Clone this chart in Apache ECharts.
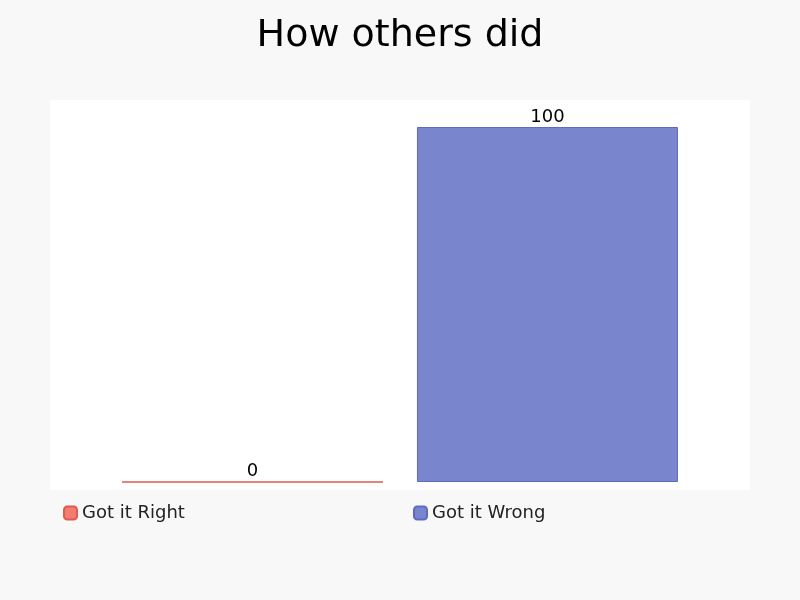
<!DOCTYPE html>
<html><head><meta charset="utf-8">
<script src="https://cdn.jsdelivr.net/npm/echarts@6/dist/echarts.min.js"></script>
<style>html,body{margin:0;background:#f8f8f8}#c{width:800px;height:600px}</style>
</head><body><div id="c"></div>
<script>
var categories = ['How others did'];
var seriesNames = ['Got it Right', 'Got it Wrong'];
var rightValues = [0];
var wrongValues = [100];

var chart = echarts.init(document.getElementById('c'));
chart.setOption({
  backgroundColor: '#f8f8f8',
  textStyle: { fontFamily: 'DejaVu Sans' },
  title: { text: 'How others did', left: 'center', top: 12,
    textStyle: { fontSize: 38, fontWeight: 'normal', color: '#000', fontFamily: 'DejaVu Sans' } },
  graphic: [{ type: 'rect', z: -1, shape: { x: 50, y: 100, width: 700, height: 390 }, style: { fill: '#fff' } }],
  legend: [
    { data: [seriesNames[0]], left: 58, top: 499, itemWidth: 13, itemHeight: 13,
      textStyle: { fontSize: 18, color: '#222' } },
    { data: [seriesNames[1]], left: 408, top: 499, itemWidth: 13, itemHeight: 13,
      textStyle: { fontSize: 18, color: '#222' } }
  ],
  grid: { left: 50, right: 50, top: 127, bottom: 118 },
  xAxis: { type: 'category', data: categories, show: false },
  yAxis: { type: 'value', min: 0, max: 100, show: false },
  series: [
    { name: seriesNames[0], type: 'bar', data: rightValues, barWidth: 261, barGap: '13%',
      itemStyle: { color: '#f47c70', borderColor: '#e05a4e', borderWidth: 1 },
      label: { show: true, position: 'top', fontSize: 18, color: '#000', distance: 1 } },
    { name: seriesNames[1], type: 'bar', data: wrongValues, barWidth: 261,
      itemStyle: { color: '#7986cd', borderColor: '#5c6bc0', borderWidth: 1 },
      label: { show: true, position: 'top', fontSize: 18, color: '#000', distance: 1 } }
  ]
});
</script></body></html>
